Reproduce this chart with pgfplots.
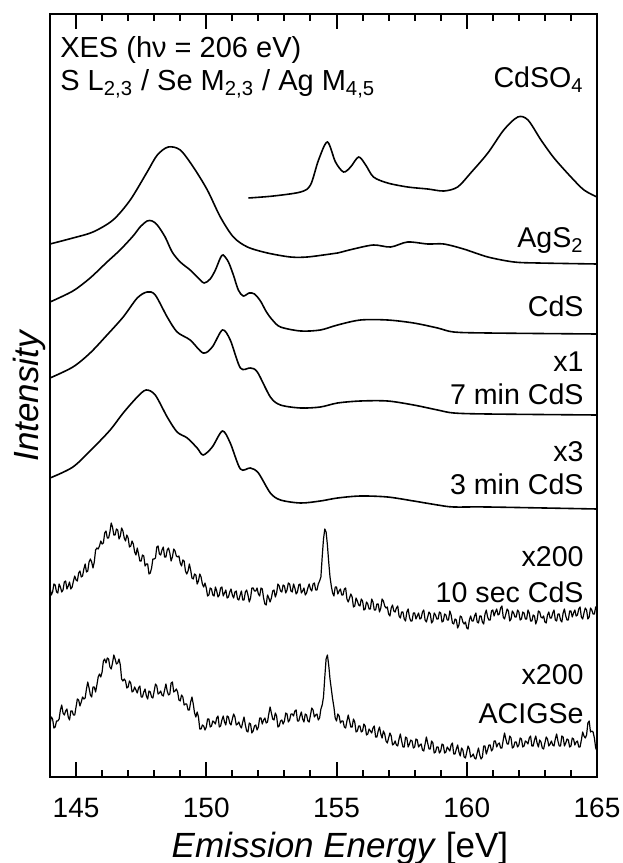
\documentclass[border=0pt]{standalone}
\usepackage{pgfplots}
\pgfplotsset{compat=1.18}
\usepackage{fontspec}
\setmainfont{Liberation Sans}
\begin{document}
\begin{tikzpicture}
\useasboundingbox (-25pt,-43pt) rectangle (286pt,388.5pt);
\begin{axis}[
  scale only axis, width=273.5pt, height=381.5pt,
  at={(0,0)}, anchor=south west,
  xmin=144, xmax=165, ymin=0, ymax=763,
  xtick={145,150,155,160,165}, minor x tick num=4,
  ytick=\empty,
  tick align=inside,
  major tick length=7.5pt, minor tick length=3.5pt,
  axis line style={line width=1.2pt},
  every tick/.style={line width=1pt, black},
  /pgf/number format/assume math mode=true,
  /pgf/number format/1000 sep={},
  xticklabel style={font=\fontsize{14}{16}\selectfont, anchor=base, yshift=-20pt},
  xlabel={\textit{Emission Energy} [eV]},
  xlabel style={font=\fontsize{17.5}{20}\selectfont, at={(axis description cs:0.53,-0.105)}, anchor=base},
  ylabel={\textit{Intensity}},
  ylabel style={font=\fontsize{17.5}{20}\selectfont, at={(axis description cs:-0.038,0.5)}, anchor=center},
  clip=true,
]
% CdSO4
\addplot[black, line width=0.8pt, smooth, tension=0.5] coordinates {
(151.62,579)(152.58,581)(153.62,585)(154.00,592)(154.31,617)(154.65,635)(154.96,615)(155.27,605)(155.54,610)(155.85,620)(156.12,612)(156.42,600)(156.96,594)(157.73,590)(158.50,588)(159.12,586)(159.65,590)(160.15,604)(160.81,624)(161.42,647)(161.96,660)(162.35,657)(162.85,637)(163.35,619)(164.00,600)(164.50,587)(165.00,580)};
% AgS2
\addplot[black, line width=0.8pt, smooth, tension=0.5] coordinates {
(144.0,533)(144.88,539)(145.65,545)(146.42,557)(147.08,577)(147.73,605)(148.12,622)(148.54,630)(149.00,627)(149.50,610)(150.04,587)(150.54,560)(151.04,540)(151.58,530)(152.35,524)(153.23,520)(153.88,520)(154.77,523)(155.04,524)(155.65,528)(156.42,532)(157.08,530)(157.73,535)(158.50,533)(159.12,533)(159.88,528)(160.81,520)(161.81,515)(162.73,514)(165.0,513)};
% CdS
\addplot[black, line width=0.8pt, smooth, tension=0.5] coordinates {
(144.0,475)(144.88,486)(145.54,499)(146.19,515)(146.69,527)(147.19,541)(147.46,550)(147.73,556)(147.92,556)(148.12,552)(148.42,540)(148.69,525)(149.0,515)(149.38,507)(149.69,499)(149.92,494)(150.15,498)(150.35,507)(150.54,519)(150.65,522)(150.85,515)(151.04,502)(151.23,487)(151.42,481)(151.65,484)(151.85,483)(152.08,476)(152.31,465)(152.54,457)(152.85,450)(153.62,446)(154.38,447)(155.04,452)(155.92,457)(156.96,457)(157.96,454)(158.88,449)(159.5,445)(160.81,444)(165.0,443)};
% 7 min CdS
\addplot[black, line width=0.8pt, smooth, tension=0.5] coordinates {
(144.0,399)(144.88,410)(145.54,424)(146.19,442)(146.81,460)(147.35,479)(147.73,485)(148.04,482)(148.5,460)(148.88,445)(149.38,437)(149.88,424)(150.23,430)(150.62,447)(150.92,437)(151.31,409)(151.69,409)(151.96,405)(152.46,380)(152.85,372)(153.62,369)(154.38,370)(155.04,374)(155.92,376)(156.96,376)(157.96,372)(158.88,367)(159.5,364)(160.81,363)(165.0,362)};
% 3 min CdS
\addplot[black, line width=0.8pt, smooth, tension=0.5] coordinates {
(144.0,299)(144.88,310)(145.65,329)(146.31,347)(146.81,364)(147.35,380)(147.69,387)(148.04,382)(148.5,360)(148.88,345)(149.27,339)(149.65,329)(149.88,322)(150.23,330)(150.62,346)(150.92,334)(151.31,308)(151.69,309)(152.0,304)(152.46,284)(152.85,277)(153.62,274)(154.38,276)(155.04,279)(155.92,281)(156.96,280)(157.96,276)(158.88,272)(159.5,270)(160.81,270)(165.0,268)};
% 10 sec CdS
\addplot[black, line width=0.6pt, line join=round] coordinates {
(144.0,189)(144.05,182)(144.1,185)(144.15,193)(144.2,192)(144.25,185)(144.3,184)(144.35,193)(144.4,190)(144.45,185)(144.5,187)(144.55,195)(144.6,196)(144.65,188)(144.7,191)(144.75,195)(144.8,188)(144.85,190)(144.9,196)(144.95,201)
(145.0,197)(145.05,196)(145.1,204)(145.15,206)(145.2,200)(145.25,201)(145.3,208)(145.35,213)(145.4,205)(145.45,206)(145.5,215)(145.55,218)(145.6,215)(145.65,209)(145.7,215)(145.75,227)(145.8,229)(145.85,228)(145.9,231)(145.95,236)
(146.0,233)(146.05,234)(146.1,244)(146.15,246)(146.2,239)(146.25,239)(146.3,245)(146.35,254)(146.4,250)(146.45,242)(146.5,242)(146.55,248)(146.6,247)(146.65,238)(146.7,241)(146.75,249)(146.8,246)(146.85,239)(146.9,236)(146.95,242)
(147.0,239)(147.05,230)(147.1,231)(147.15,236)(147.2,233)(147.25,225)(147.3,222)(147.35,229)(147.4,223)(147.45,216)(147.5,216)(147.55,222)(147.6,221)(147.65,211)(147.7,213)(147.75,213)(147.8,203)(147.85,204)(147.9,209)(147.95,218)
(148.0,218)(148.05,219)(148.1,230)(148.15,231)(148.2,223)(148.25,222)(148.3,227)(148.35,230)(148.4,220)(148.45,220)(148.5,227)(148.55,229)(148.6,224)(148.65,216)(148.7,220)(148.75,228)(148.8,226)(148.85,221)(148.9,220)(148.95,221)
(149.0,214)(149.05,211)(149.1,217)(149.15,216)(149.2,206)(149.25,203)(149.3,206)(149.35,213)(149.4,207)(149.45,199)(149.5,198)(149.55,203)(149.6,202)(149.65,193)(149.7,196)(149.75,203)(149.8,200)(149.85,193)(149.9,190)(149.95,194)
(150.0,189)(150.05,181)(150.1,182)(150.15,189)(150.2,188)(150.25,182)(150.3,181)(150.35,190)(150.4,186)(150.45,180)(150.5,182)(150.55,189)(150.6,190)(150.65,181)(150.7,184)(150.75,187)(150.8,179)(150.85,180)(150.9,185)(150.95,188)
(151.0,182)(151.05,179)(151.1,185)(151.15,186)(151.2,178)(151.25,177)(151.3,182)(151.35,186)(151.4,177)(151.45,177)(151.5,185)(151.55,187)(151.6,182)(151.65,175)(151.7,179)(151.75,189)(151.8,189)(151.85,186)(151.9,186)(151.95,189)
(152.0,183)(152.05,181)(152.1,189)(152.15,188)(152.2,179)(152.25,173)(152.3,172)(152.35,182)(152.4,179)(152.45,175)(152.5,179)(152.55,186)(152.6,187)(152.65,180)(152.7,184)(152.75,193)(152.8,191)(152.85,186)(152.9,185)(152.95,192)
(153.0,191)(153.05,184)(153.1,187)(153.15,194)(153.2,193)(153.25,186)(153.3,185)(153.35,193)(153.4,189)(153.45,183)(153.5,185)(153.55,192)(153.6,193)(153.65,184)(153.7,186)(153.75,189)(153.8,182)(153.85,184)(153.9,189)(153.95,193)
(154.0,188)(154.05,186)(154.1,193)(154.15,194)(154.2,187)(154.25,187)(154.3,193)(154.35,196)(154.4,200)(154.45,220)(154.5,238)(154.55,248)(154.6,245)(154.65,232)(154.7,215)(154.75,200)(154.8,191)(154.85,184)(154.9,181)(154.95,190)
(155.0,190)(155.05,183)(155.1,186)(155.15,188)(155.2,182)(155.25,182)(155.3,188)(155.35,189)(155.4,178)(155.45,175)(155.5,179)(155.55,183)(155.6,180)(155.65,170)(155.7,171)(155.75,179)(155.8,176)(155.85,172)(155.9,171)(155.95,178)
(156.0,176)(156.05,167)(156.1,168)(156.15,175)(156.2,173)(156.25,168)(156.3,168)(156.35,178)(156.4,175)(156.45,167)(156.5,167)(156.55,173)(156.6,173)(156.65,165)(156.7,169)(156.75,178)(156.8,176)(156.85,171)(156.9,169)(156.95,170)
(157.0,163)(157.05,161)(157.1,169)(157.15,172)(157.2,166)(157.25,165)(157.3,169)(157.35,171)(157.4,161)(157.45,159)(157.5,165)(157.55,165)(157.6,158)(157.65,156)(157.7,165)(157.75,168)(157.8,160)(157.85,156)(157.9,156)(157.95,164)
(158.0,164)(158.05,158)(158.1,161)(158.15,164)(158.2,158)(158.25,159)(158.3,165)(158.35,167)(158.4,157)(158.45,155)(158.5,160)(158.55,165)(158.6,163)(158.65,154)(158.7,156)(158.75,164)(158.8,162)(158.85,158)(158.9,158)(158.95,165)
(159.0,164)(159.05,155)(159.1,156)(159.15,163)(159.2,162)(159.25,157)(159.3,157)(159.35,166)(159.4,162)(159.45,154)(159.5,153)(159.55,158)(159.6,157)(159.65,149)(159.7,152)(159.75,161)(159.8,160)(159.85,155)(159.9,153)(159.95,155)
(160.0,149)(160.05,148)(160.1,157)(160.15,161)(160.2,156)(160.25,156)(160.3,161)(160.35,164)(160.4,155)(160.45,154)(160.5,161)(160.55,161)(160.6,155)(160.65,153)(160.7,163)(160.75,167)(160.8,160)(160.85,157)(160.9,157)(160.95,166)
(161.0,167)(161.05,161)(161.1,165)(161.15,168)(161.2,162)(161.25,163)(161.3,169)(161.35,171)(161.4,160)(161.45,158)(161.5,163)(161.55,168)(161.6,166)(161.65,156)(161.7,158)(161.75,166)(161.8,164)(161.85,160)(161.9,160)(161.95,167)
(162.0,165)(162.05,157)(162.1,158)(162.15,165)(162.2,164)(162.25,158)(162.3,158)(162.35,167)(162.4,164)(162.45,156)(162.5,156)(162.55,162)(162.6,161)(162.65,153)(162.7,157)(162.75,166)(162.8,165)(162.85,160)(162.9,159)(162.95,161)
(163.0,155)(163.05,154)(163.1,162)(163.15,165)(163.2,159)(163.25,159)(163.3,164)(163.35,167)(163.4,157)(163.45,156)(163.5,163)(163.55,163)(163.6,157)(163.65,155)(163.7,164)(163.75,168)(163.8,161)(163.85,157)(163.9,157)(163.95,166)
(164.0,166)(164.05,160)(164.1,164)(164.15,167)(164.2,161)(164.25,162)(164.3,168)(164.35,170)(164.4,160)(164.45,158)(164.5,164)(164.55,169)(164.6,167)(164.65,158)(164.7,160)(164.75,169)(164.8,167)(164.85,163)(164.9,163)(164.95,170)(165.0,169)};
% ACIGSe
\addplot[black, line width=0.6pt, line join=round] coordinates {
(144.0,53)(144.05,60)(144.1,58)(144.15,49)(144.2,50)(144.25,56)(144.3,56)(144.35,58)(144.4,67)(144.45,72)(144.5,64)(144.55,62)(144.6,66)(144.65,68)(144.7,60)(144.75,57)(144.8,66)(144.85,66)(144.9,62)(144.95,62)
(145.0,70)(145.05,78)(145.1,77)(145.15,71)(145.2,75)(145.25,80)(145.3,78)(145.35,79)(145.4,88)(145.45,95)(145.5,89)(145.55,82)(145.6,80)(145.65,90)(145.7,90)(145.75,85)(145.8,92)(145.85,100)(145.9,103)(145.95,100)
(146.0,105)(146.05,116)(146.1,118)(146.15,114)(146.2,119)(146.25,118)(146.3,110)(146.35,108)(146.4,114)(146.45,122)(146.5,118)(146.55,113)(146.6,114)(146.65,118)(146.7,112)(146.75,98)(146.8,96)(146.85,98)(146.9,96)(146.95,89)
(147.0,90)(147.05,96)(147.1,94)(147.15,85)(147.2,86)(147.25,90)(147.3,87)(147.35,84)(147.4,89)(147.45,91)(147.5,80)(147.55,80)(147.6,85)(147.65,88)(147.7,81)(147.75,78)(147.8,86)(147.85,85)(147.9,80)(147.95,79)
(148.0,86)(148.05,93)(148.1,91)(148.15,83)(148.2,84)(148.25,86)(148.3,82)(148.35,81)(148.4,87)(148.45,93)(148.5,86)(148.55,82)(148.6,83)(148.65,94)(148.7,95)(148.75,85)(148.8,86)(148.85,88)(148.9,85)(148.95,77)
(149.0,76)(149.05,82)(149.1,80)(149.15,72)(149.2,73)(149.25,73)(149.3,67)(149.35,67)(149.4,75)(149.45,80)(149.5,73)(149.55,64)(149.6,60)(149.65,65)(149.7,60)(149.75,48)(149.8,48)(149.85,52)(149.9,51)(149.95,47)
(150.0,50)(150.05,58)(150.1,58)(150.15,50)(150.2,51)(150.25,56)(150.3,55)(150.35,53)(150.4,59)(150.45,61)(150.5,50)(150.55,51)(150.6,57)(150.65,61)(150.7,55)(150.75,52)(150.8,61)(150.85,60)(150.9,54)(150.95,52)
(151.0,58)(151.05,63)(151.1,60)(151.15,52)(151.2,53)(151.25,55)(151.3,51)(151.35,49)(151.4,55)(151.45,60)(151.5,52)(151.55,46)(151.6,45)(151.65,54)(151.7,53)(151.75,44)(151.8,46)(151.85,51)(151.9,52)(151.95,47)
(152.0,50)(152.05,59)(152.1,59)(152.15,53)(152.2,57)(152.25,59)(152.3,54)(152.35,55)(152.4,63)(152.45,70)(152.5,64)(152.55,58)(152.6,57)(152.65,64)(152.7,61)(152.75,50)(152.8,51)(152.85,56)(152.9,57)(152.95,53)
(153.0,56)(153.05,64)(153.1,63)(153.15,55)(153.2,57)(153.25,63)(153.3,63)(153.35,61)(153.4,66)(153.45,67)(153.5,56)(153.55,56)(153.6,61)(153.65,65)(153.7,58)(153.75,55)(153.8,63)(153.85,62)(153.9,56)(153.95,55)
(154.0,62)(154.05,69)(154.1,67)(154.15,60)(154.2,62)(154.25,63)(154.3,57)(154.35,59)(154.4,68)(154.45,72)(154.5,80)(154.55,100)(154.6,118)(154.65,122)(154.7,112)(154.75,98)(154.8,88)(154.85,78)(154.9,70)(154.95,59)
(155.0,56)(155.05,63)(155.1,61)(155.15,54)(155.2,56)(155.25,56)(155.3,50)(155.35,49)(155.4,56)(155.45,62)(155.5,56)(155.55,50)(155.6,50)(155.65,58)(155.7,55)(155.75,45)(155.8,46)(155.85,51)(155.9,51)(155.95,45)
(156.0,46)(156.05,53)(156.1,51)(156.15,42)(156.2,43)(156.25,48)(156.3,46)(156.35,44)(156.4,49)(156.45,51)(156.5,40)(156.55,40)(156.6,46)(156.65,50)(156.7,43)(156.75,39)(156.8,46)(156.85,43)(156.9,36)(156.95,34)
(157.0,39)(157.05,44)(157.1,41)(157.15,32)(157.2,33)(157.25,36)(157.3,32)(157.35,31)(157.4,38)(157.45,43)(157.5,36)(157.55,30)(157.6,30)(157.65,40)(157.7,39)(157.75,30)(157.8,33)(157.85,37)(157.9,36)(157.95,29)
(158.0,30)(158.05,38)(158.1,37)(158.15,30)(158.2,32)(158.25,33)(158.3,27)(158.35,26)(158.4,33)(158.45,40)(158.5,34)(158.55,28)(158.6,28)(158.65,36)(158.7,34)(158.75,24)(158.8,25)(158.85,30)(158.9,30)(158.95,24)
(159.0,26)(159.05,33)(159.1,32)(159.15,24)(159.2,25)(159.25,30)(159.3,28)(159.35,26)(159.4,32)(159.45,34)(159.5,23)(159.55,23)(159.6,28)(159.65,32)(159.7,25)(159.75,21)(159.8,29)(159.85,27)(159.9,20)(159.95,19)
(160.0,25)(160.05,31)(160.1,28)(160.15,20)(160.2,21)(160.25,23)(160.3,19)(160.35,18)(160.4,24)(160.45,29)(160.5,22)(160.55,18)(160.6,20)(160.65,31)(160.7,31)(160.75,23)(160.8,27)(160.85,32)(160.9,32)(160.95,26)
(161.0,28)(161.05,36)(161.1,36)(161.15,30)(161.2,33)(161.25,34)(161.3,29)(161.35,29)(161.4,37)(161.45,44)(161.5,38)(161.55,33)(161.6,33)(161.65,41)(161.7,39)(161.75,29)(161.8,30)(161.85,35)(161.9,35)(161.95,30)
(162.0,32)(162.05,39)(162.1,38)(162.15,30)(162.2,31)(162.25,36)(162.3,35)(162.35,33)(162.4,39)(162.45,41)(162.5,31)(162.55,31)(162.6,37)(162.65,41)(162.7,34)(162.75,30)(162.8,37)(162.85,35)(162.9,29)(162.95,28)
(163.0,34)(163.05,40)(163.1,38)(163.15,31)(163.2,33)(163.25,36)(163.3,32)(163.35,31)(163.4,38)(163.45,43)(163.5,36)(163.55,31)(163.6,31)(163.65,41)(163.7,40)(163.75,31)(163.8,34)(163.85,38)(163.9,37)(163.95,30)
(164.0,31)(164.05,39)(164.1,38)(164.15,32)(164.2,35)(164.25,36)(164.3,30)(164.35,30)(164.4,37)(164.45,45)(164.5,41)(164.55,39)(164.6,42)(164.65,54)(164.7,56)(164.75,45)(164.8,46)(164.85,45)(164.9,39)(164.95,29)(165.0,26)};
% labels
\begin{scope}[every node/.style={font=\fontsize{14.3}{16}\selectfont, inner sep=0pt, anchor=base east}]
\node at (axis cs:164.5,689) {CdSO\textsubscript{4}};
\node at (axis cs:164.5,529) {AgS\textsubscript{2}};
\node at (axis cs:164.5,460) {CdS};
\node at (axis cs:164.5,405) {x1};
\node at (axis cs:164.5,372) {7 min CdS};
\node at (axis cs:164.5,315) {x3};
\node at (axis cs:164.5,282) {3 min CdS};
\node at (axis cs:164.5,210) {x200};
\node at (axis cs:164.5,175) {10 sec CdS};
\node at (axis cs:164.5,92) {x200};
\node at (axis cs:164.5,54) {ACIGSe};
\end{scope}
\begin{scope}[every node/.style={font=\fontsize{14.5}{16}\selectfont, inner sep=0pt, anchor=base west}]
\node at (axis cs:144.38,719) {XES (hν = 206 eV)};
\node at (axis cs:144.38,686) {S L\textsubscript{2,3} / Se M\textsubscript{2,3} / Ag M\textsubscript{4,5}};
\end{scope}
\end{axis}
\end{tikzpicture}
\end{document}
